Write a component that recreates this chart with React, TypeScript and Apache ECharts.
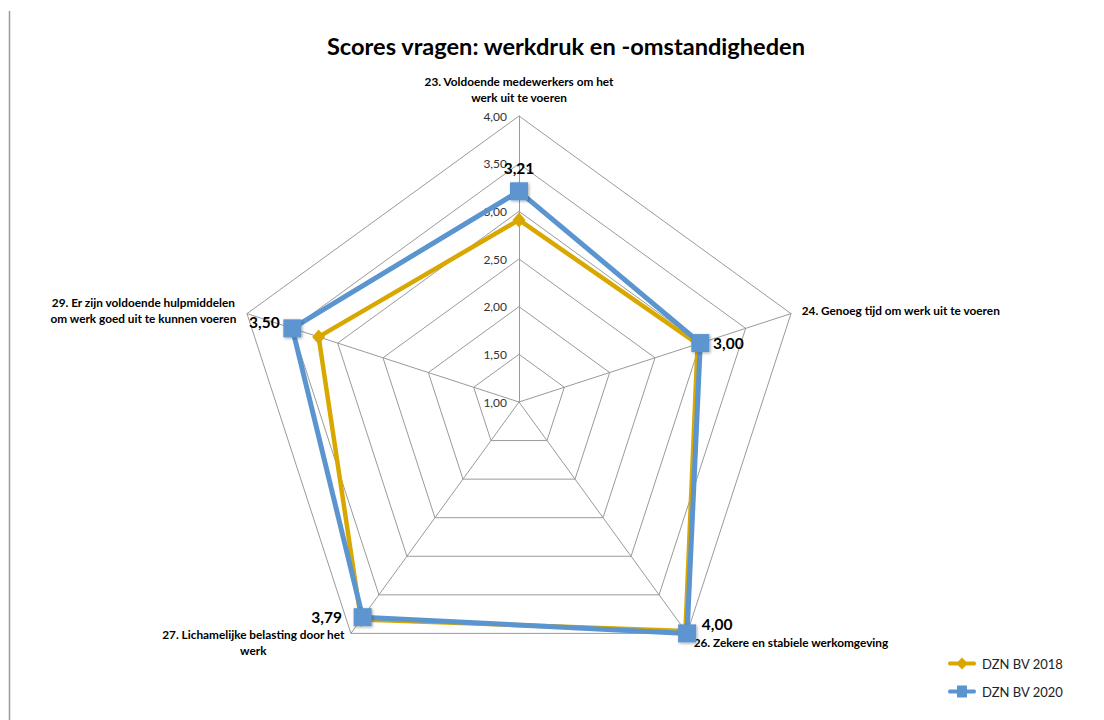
import React, { useEffect, useRef } from 'react';
import * as echarts from 'echarts';

// Radar indicators in ECharts order (counter-clockwise from the top)
const indicatorNames = [
  '23. Voldoende medewerkers om het\nwerk uit te voeren',
  '29. Er zijn voldoende hulpmiddelen\nom werk goed uit te kunnen voeren',
  '27. Lichamelijke belasting door het\nwerk',
  '26. Zekere en stabiele werkomgeving',
  '24. Genoeg tijd om werk uit te voeren',
];
const values2018 = [2.91, 3.21, 3.82, 3.97, 2.97];
const values2020 = [3.21, 3.5, 3.79, 4.0, 3.0];
const seriesNames = ['DZN BV 2018', 'DZN BV 2020'];
const scaleMin = 1;
const scaleMax = 4;
const scaleSteps = 6;
const titleText = 'Scores vragen: werkdruk en -omstandigheden';

const labelKeys = ['t', 'l', 'bl', 'br', 'r'];
const FONT = 'Lato, "Open Sans", sans-serif';
const GOLD = '#D9A800';
const BLUE = '#5B95D0';

const fmt = (v: number) => v.toFixed(2).replace('.', ',');

export default function App() {
  const ref = useRef<HTMLDivElement>(null);
  useEffect(() => {
    if (!ref.current) return;
    const chart = echarts.init(ref.current, undefined, { renderer: 'svg' });
    const option: any = {
      animation: false,
      backgroundColor: '#fff',
      textStyle: { fontFamily: FONT },
      title: {
        text: titleText,
        left: 561,
        top: 29,
        textAlign: 'center',
        textStyle: { fontFamily: FONT, fontSize: 23.6, fontWeight: 'bold', color: '#000' },
      },
      graphic: [
        {
          type: 'line',
          shape: { x1: 9, y1: 11.5, x2: 1104, y2: 11.5 },
          style: { stroke: '#9a9a9a', lineWidth: 1.5, shadowBlur: 4, shadowColor: 'rgba(0,0,0,0.35)', shadowOffsetY: -1 },
        },
        {
          type: 'line',
          shape: { x1: 9.5, y1: 11, x2: 9.5, y2: 720 },
          style: { stroke: '#9a9a9a', lineWidth: 1.5 },
        },
      ],
      legend: {
        orient: 'vertical',
        left: 943,
        top: 652,
        itemWidth: 30,
        itemHeight: 12,
        itemGap: 15,
        textStyle: { fontFamily: FONT, fontSize: 13, color: '#222' },
        data: [
          {
            name: seriesNames[0],
            icon: 'path://M2,4L11,4L15,0L19,4L28,4Q30,6,28,8L19,8L15,12L11,8L2,8Q0,6,2,4Z',
          },
          {
            name: seriesNames[1],
            icon: 'path://M2,4L10,4L10,0L20,0L20,4L28,4Q30,6,28,8L20,8L20,12L10,12L10,8L2,8Q0,6,2,4Z',
          },
        ],
      },
      radar: {
        center: [519, 402],
        radius: 286,
        shape: 'polygon',
        startAngle: 90,
        splitNumber: scaleSteps,
        splitArea: { show: false },
        splitLine: { lineStyle: { color: '#9a9a9a', width: 1 } },
        axisLine: { lineStyle: { color: '#9a9a9a', width: 1 } },
        axisTick: { show: false },
        axisLabel: { show: false },
        axisName: {
          color: '#000',
          fontFamily: FONT,
          fontSize: 11.8,
          fontWeight: 'bold',
          lineHeight: 16,
          formatter: (name: string) =>
            name
              .split('\n')
              .map((l) => `{c|${l}}`)
              .join('\n'),
          rich: { c: { align: 'center', fontSize: 11.8, fontWeight: 'bold', lineHeight: 16 } },
        },
        nameGap: 11,
        indicator: indicatorNames.map((name, i) => ({
          name,
          min: scaleMin,
          max: scaleMax,
          ...(i === 0
            ? {
                axisLabel: {
                  show: true,
                  margin: 12,
                  fontSize: 12,
                  color: '#333',
                  fontFamily: FONT,
                  formatter: (v: number) => fmt(v),
                },
              }
            : {}),
        })),
      },
      series: [
        {
          type: 'radar',
          name: seriesNames[0],
          symbol: 'diamond',
          symbolSize: [13, 15],
          lineStyle: { color: GOLD, width: 4.5 },
          itemStyle: { color: GOLD },
          z: 2,
          data: [{ name: seriesNames[0], value: values2018 }],
        },
        {
          type: 'radar',
          name: seriesNames[1],
          symbol: 'rect',
          symbolSize: 18,
          lineStyle: { color: BLUE, width: 5 },
          itemStyle: {
            color: BLUE,
            shadowBlur: 3,
            shadowColor: 'rgba(0,0,0,0.35)',
            shadowOffsetX: 1,
            shadowOffsetY: 1,
          },
          z: 3,
          label: {
            show: true,
            position: 'inside',
            color: '#000',
            fontFamily: FONT,
            fontSize: 15.5,
            fontWeight: 'bold',
            formatter: (p: any) => {
              const idx = values2020.indexOf(p.value);
              const key = labelKeys[idx >= 0 ? idx : 0];
              return `{${key}|${fmt(p.value)}}`;
            },
            rich: {
              t: { fontSize: 15.5, fontWeight: 'bold', padding: [0, 0, 46, 0] },
              l: { fontSize: 15.5, fontWeight: 'bold', padding: [0, 56, 12, 0] },
              bl: { fontSize: 15.5, fontWeight: 'bold', padding: [0, 72, 0, 0] },
              br: { fontSize: 15.5, fontWeight: 'bold', padding: [0, 0, 18, 60] },
              r: { fontSize: 15.5, fontWeight: 'bold', padding: [0, 0, 0, 56] },
            },
          },
          data: [{ name: seriesNames[1], value: values2020 }],
        },
      ],
    };
    chart.setOption(option);
    return () => chart.dispose();
  }, []);
  return (
    <div
      ref={ref}
      style={{ position: 'fixed', left: 0, top: 0, width: 1104, height: 720 }}
    />
  );
}
